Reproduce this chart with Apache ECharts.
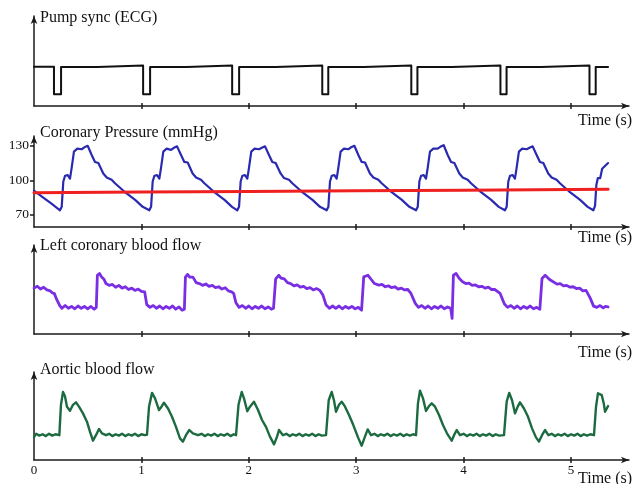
<!DOCTYPE html>
<html><head><meta charset="utf-8">
<script src="https://cdn.jsdelivr.net/npm/echarts@6/dist/echarts.min.js"></script>
<style>html,body{margin:0;padding:0;background:#fff}#c{width:632px;height:484px}</style>
</head><body><div id="c"></div>
<script>
// ---- texts / ticks ----
const panelTitles = ['Pump sync (ECG)', 'Coronary Pressure (mmHg)', 'Left coronary blood flow', 'Aortic blood flow'];
const timeAxisName = 'Time (s)';
const xTickValues = [1, 2, 3, 4, 5];
const xLabelValues = [0, 1, 2, 3, 4, 5];
const pressureTicks = [70, 100, 130];

// ---- data: [time (s), value] ----
const pumpSync = [[0,43.7],[0.186,43.7],[0.186,13],[0.252,13],[0.252,43.3],[0.59,43.3],[0.59,45],[1.016,45],[1.016,13],[1.081,13],[1.081,43.3],[1.42,43.3],[1.42,45],[1.845,45],[1.845,13],[1.91,13],[1.91,43.3],[2.25,43.3],[2.25,45],[2.684,45],[2.684,13],[2.74,13],[2.74,43.3],[3.07,43.3],[3.07,45],[3.513,45],[3.513,13],[3.57,13],[3.57,43.3],[3.89,43.3],[3.89,45],[4.343,45],[4.343,13],[4.40,13],[4.40,43.3],[4.72,43.3],[4.72,45],[5.172,45],[5.172,13],[5.23,13],[5.23,43.3],[5.345,43.3]];

const coronaryPressure = [[0,91],[0.08,85.5],[0.16,80],
[0.242,74],[0.258,77],[0.273,99],[0.289,104],[0.314,104.5],[0.335,101.5],[0.351,111],[0.372,125],[0.403,127.5],[0.444,127],[0.475,129],[0.500,130],[0.537,122],[0.568,116],[0.599,115],[0.614,114.5],[0.645,106],[0.677,102.5],[0.723,100.5],[0.754,97.5],[0.838,90.5],[0.942,83],[1.012,77],
[1.074,74],[1.090,77],[1.105,99],[1.121,104],[1.146,104.5],[1.167,101.5],[1.183,111],[1.204,125],[1.235,127.5],[1.276,126.5],[1.307,128.5],[1.332,129.5],[1.369,122],[1.400,116],[1.431,115.5],[1.446,114],[1.477,106],[1.509,102.5],[1.555,100.5],[1.586,97.5],[1.670,90.5],[1.774,83],[1.844,77],
[1.893,74],[1.909,77],[1.924,99],[1.940,104],[1.965,104.5],[1.986,101.5],[2.002,111],[2.023,125],[2.054,127.5],[2.095,127],[2.126,128.5],[2.151,129.5],[2.188,122],[2.219,116],[2.250,115],[2.265,114.5],[2.296,106],[2.328,102],[2.374,100.5],[2.405,97.5],[2.489,90.5],[2.593,83],[2.663,77],
[2.725,74],[2.741,77],[2.756,99],[2.772,104],[2.797,104.5],[2.818,101.5],[2.834,111],[2.855,125],[2.886,127.5],[2.927,127],[2.958,129],[2.983,130],[3.020,122],[3.051,116],[3.082,115.5],[3.097,114.5],[3.128,106],[3.160,102.5],[3.206,100.5],[3.237,97.5],[3.321,90.5],[3.425,83],[3.495,77],
[3.557,74],[3.573,77],[3.588,99],[3.604,104],[3.629,104.5],[3.650,101.5],[3.666,111],[3.687,125],[3.718,127.5],[3.759,127.5],[3.790,129.5],[3.815,130.5],[3.852,122],[3.883,116],[3.914,115],[3.929,114.5],[3.960,106],[3.992,102.5],[4.038,100.5],[4.069,97.5],[4.153,90.5],[4.257,83],[4.327,77],
[4.385,74],[4.401,77],[4.416,99],[4.432,104],[4.457,104.5],[4.478,101.5],[4.494,111],[4.515,125],[4.546,127.5],[4.587,127],[4.618,128.5],[4.643,129.5],[4.680,122],[4.711,116],[4.742,115],[4.757,114.5],[4.788,106],[4.820,102.5],[4.866,100.5],[4.897,97.5],[4.981,90.5],[5.085,83],[5.155,77],
[5.208,74],[5.224,78],[5.236,96],[5.250,102],[5.262,103],[5.272,102],[5.290,110],[5.345,115]];

const aorticPressureMean = [[0,89.2],[1,89.8],[2,90.3],[3,90.9],[4,91.5],[5,92],[5.345,92.2]];

const leftCoronaryFlow = [[0,50],[0.03,52],[0.06,49],[0.09,51],[0.12,48],[0.15,47],[0.17,45],[0.19,44],[0.21,38],[0.24,31],[0.26,28],[0.29,31],[0.32,28],[0.35,30],[0.38,27.5],[0.41,30.5],[0.44,28],[0.47,30],[0.50,27.5],[0.53,30],[0.56,27],[0.58,29],[0.59,64],[0.61,66],[0.63,62],[0.65,60],[0.67,55],[0.70,53],[0.73,54],[0.76,51],[0.79,53],[0.82,50],[0.85,51.5],[0.88,48.5],[0.91,50],[0.94,47.5],[0.97,49],[1.00,46.5],[1.03,46],[1.05,32],[1.08,29],[1.11,31],[1.14,28],[1.17,30.5],[1.20,27.5],[1.23,30],[1.26,28],[1.29,30.5],[1.32,27],[1.35,29.5],[1.38,26],[1.40,27],[1.41,62],[1.43,65],[1.45,62],[1.48,62],[1.51,56],[1.54,55],[1.57,53],[1.60,54.5],[1.63,52],[1.66,53],[1.69,50.5],[1.72,51.5],[1.75,49],[1.78,50.5],[1.81,47],[1.84,46],[1.86,44],[1.88,34],[1.91,29],[1.94,31],[1.97,28],[2.00,30.5],[2.03,27.5],[2.06,30],[2.09,28],[2.12,30.5],[2.15,27.5],[2.18,29.5],[2.21,27],[2.23,28],[2.25,60],[2.28,64],[2.30,61],[2.33,60],[2.36,56],[2.39,55],[2.42,52.5],[2.45,53.5],[2.48,51],[2.51,52],[2.54,49.5],[2.57,50.5],[2.60,48],[2.63,49.5],[2.66,47.8],[2.69,42.4],[2.72,31.5],[2.75,28],[2.78,30.5],[2.81,28],[2.84,30.5],[2.87,27.5],[2.90,30],[2.93,28],[2.96,30],[2.99,27.5],[3.02,29],[3.05,26],[3.07,62.3],[3.11,64],[3.14,59.4],[3.17,55],[3.21,53.3],[3.24,54],[3.27,51.5],[3.30,52.5],[3.33,50.5],[3.36,51.5],[3.39,49],[3.42,50],[3.45,48],[3.48,48.5],[3.51,44.2],[3.55,33.4],[3.58,29],[3.61,31],[3.64,28],[3.67,30.5],[3.70,27.5],[3.73,30],[3.76,28],[3.79,30.5],[3.82,27.5],[3.85,29.5],[3.88,28],[3.893,17],[3.905,64],[3.93,66],[3.96,60.5],[3.99,57],[4.02,55],[4.05,55.5],[4.08,53],[4.11,53.5],[4.14,51.5],[4.17,52],[4.20,50],[4.23,51],[4.26,48.5],[4.29,48.5],[4.34,44.2],[4.38,32.6],[4.41,29],[4.44,31],[4.47,28],[4.50,30.5],[4.53,27.5],[4.56,30],[4.59,28],[4.62,30.5],[4.65,27.5],[4.68,29],[4.71,27],[4.73,60.5],[4.76,64],[4.80,59.4],[4.87,54.3],[4.90,55],[4.93,52.5],[4.96,53],[4.99,51],[5.02,51.5],[5.05,49.5],[5.08,50],[5.11,47],[5.14,47.5],[5.18,38.8],[5.21,30.4],[5.24,29],[5.27,31],[5.30,28.5],[5.32,30],[5.345,29.5]];

const aorticFlow = [[0,25],[0.02,28.5],[0.05,26.5],[0.08,28],[0.11,26],[0.14,28.5],[0.17,26.5],[0.2,28],[0.236,27],
[0.251,60],[0.270,74],[0.289,69],[0.307,58],[0.335,53.6],[0.363,60],[0.391,62.7],[0.419,58],[0.456,50.7],[0.493,41.7],[0.521,30.8],[0.549,21],[0.577,27],[0.605,33.7],[0.633,29],[0.670,27],
[0.70,28.5],[0.73,26],[0.76,28],[0.79,26.5],[0.82,28.5],[0.85,26],[0.88,28],[0.91,26.5],[0.94,28.5],[0.97,26],[1.00,28],[1.03,27],[1.052,27.5],
[1.071,58],[1.099,73],[1.127,67],[1.164,54.3],[1.182,57],[1.210,62.3],[1.248,56],[1.285,47],[1.322,36],[1.359,23.5],[1.387,20],[1.415,27],[1.446,32.6],[1.480,29],[1.527,27],
[1.56,28.5],[1.59,26],[1.62,28],[1.65,26.5],[1.68,28.5],[1.71,26],[1.74,28],[1.77,26.5],[1.80,28.5],[1.83,26],[1.86,28],[1.881,27],
[1.904,60],[1.934,74],[1.955,67],[1.986,53],[2.011,58],[2.048,63.4],[2.086,54.3],[2.123,43.5],[2.160,36],[2.197,25.4],[2.235,17],[2.263,25.4],[2.281,32.6],[2.318,27],
[2.35,28.5],[2.38,26],[2.41,28],[2.44,26.5],[2.47,28.5],[2.50,26],[2.53,28],[2.56,26.5],[2.59,28.5],[2.62,26],[2.65,28],[2.68,26.5],[2.719,27],
[2.744,65],[2.772,74],[2.793,65],[2.812,52.5],[2.840,60],[2.865,63.4],[2.896,58],[2.933,49],[2.973,38],[3.017,24.6],[3.051,15.6],[3.079,24.6],[3.107,33.3],[3.138,27],
[3.17,28.5],[3.20,26],[3.23,28],[3.26,26.5],[3.29,28.5],[3.32,26],[3.35,28],[3.38,26.5],[3.41,28.5],[3.44,26],[3.47,28],[3.50,26.5],[3.53,28],[3.557,27],
[3.575,61.6],[3.594,75.4],[3.622,67],[3.650,53.3],[3.678,58.7],[3.703,61.6],[3.734,58],[3.771,49],[3.808,38],[3.845,29],[3.889,21],[3.911,27],[3.936,32.6],[3.966,27],
[4.00,28.5],[4.03,26],[4.06,28],[4.09,26.5],[4.12,28.5],[4.15,26],[4.18,28],[4.21,26.5],[4.24,28.5],[4.27,26],[4.30,28],[4.33,26.5],[4.376,27],
[4.401,63.4],[4.425,73],[4.451,65],[4.479,50.7],[4.504,58],[4.525,62.7],[4.562,56],[4.600,47],[4.637,34.4],[4.674,24.6],[4.702,20],[4.730,27],[4.758,32.6],[4.789,27],
[4.82,28.5],[4.85,26],[4.88,28],[4.91,26.5],[4.94,28.5],[4.97,26],[5.00,28],[5.03,26.5],[5.06,28.5],[5.09,26],[5.12,28],[5.15,26.5],[5.18,28],[5.214,27],
[5.233,58],[5.251,72.5],[5.286,70.6],[5.305,61.6],[5.317,52.5],[5.333,56],[5.345,58.7]];

// ---- layout ----
const FONT = '"Liberation Serif", "DejaVu Serif", serif';
const AX = '#1a1a1a';
const grids = [
  {left: 34, width: 595, top: 16, height: 90},
  {left: 34, width: 595, top: 136, height: 91},
  {left: 34, width: 595, top: 245, height: 89},
  {left: 34, width: 595, top: 372, height: 88}
];
const yRanges = [[0, 100], [59.5, 138.5], [0, 97], [0, 95.7]];
const X_MAX = 5.54;

const xAxis = [], yAxis = [];
grids.forEach((g, i) => {
  xAxis.push({
    type: 'value', gridIndex: i, min: 0, max: X_MAX, position: 'bottom',
    axisLine: {show: true, onZero: false, symbol: ['none', 'arrow'], symbolSize: [5, 8], lineStyle: {color: AX, width: 1.5}},
    axisTick: {show: true, customValues: xTickValues, length: 3, lineStyle: {color: AX, width: 1.5}},
    axisLabel: {show: i === 3, customValues: xLabelValues, margin: 4, color: '#111', fontFamily: FONT, fontSize: 13},
    splitLine: {show: false}
  });
  xAxis.push({
    type: 'value', gridIndex: i, min: 0, max: X_MAX, position: 'bottom',
    axisLine: {show: false, onZero: false},
    axisTick: {show: true, inside: true, customValues: xTickValues, length: 3, lineStyle: {color: AX, width: 1.5}},
    axisLabel: {show: false},
    splitLine: {show: false}
  });
  const isP = i === 1;
  yAxis.push({
    type: 'value', gridIndex: i, min: yRanges[i][0], max: yRanges[i][1],
    axisLine: {show: true, onZero: false, symbol: ['none', 'arrow'], symbolSize: [5, 8], lineStyle: {color: AX, width: 1.5}},
    axisTick: {show: isP, customValues: pressureTicks, length: 4, lineStyle: {color: AX, width: 1.5}},
    axisLabel: {show: isP, customValues: pressureTicks, margin: 5, color: '#111', fontFamily: FONT, fontSize: 13.5},
    splitLine: {show: false}
  });
});

function line(data, gi, color, width, z) {
  return {type: 'line', data, xAxisIndex: gi * 2, yAxisIndex: gi, showSymbol: false, symbol: 'none',
    silent: true, z: z || 2, lineStyle: {color, width, join: 'round', cap: 'round'}};
}

const titleY = [18, 132.5, 246, 370];
const timeY = [121, 238, 353, 479];
const graphic = [];
panelTitles.forEach((t, i) => {
  graphic.push({type: 'text', x: 40, y: titleY[i], style: {text: t, font: '16px ' + FONT, fill: '#111', verticalAlign: 'middle'}});
  graphic.push({type: 'text', x: 578, y: timeY[i], style: {text: timeAxisName, font: '16px ' + FONT, fill: '#111', verticalAlign: 'middle'}});
});

const chart = echarts.init(document.getElementById('c'));
chart.setOption({
  animation: false,
  backgroundColor: '#fff',
  grid: grids,
  xAxis, yAxis,
  graphic,
  series: [
    line(pumpSync, 0, '#111', 2),
    line(coronaryPressure, 1, '#2a2ab0', 2.2),
    line(aorticPressureMean, 1, '#ee2020', 3, 3),
    line(leftCoronaryFlow, 2, '#7a2ee4', 2.8),
    line(aorticFlow, 3, '#1c6b40', 2.4)
  ]
});
</script>
</body></html>
